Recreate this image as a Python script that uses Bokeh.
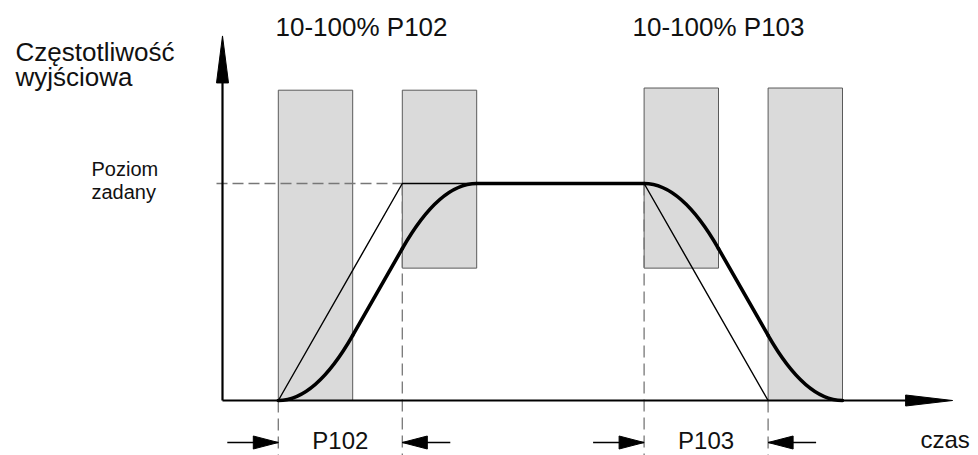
from bokeh.plotting import figure
from bokeh.models import Range1d
from bokeh.core.properties import value
from bokeh.embed import file_html
from bokeh.resources import INLINE

# ---------------- data (time units, output frequency as fraction of setpoint) ----------------
setpoint = 1.0
# shaded S-curve rounding windows
win_left = [2.25, 7.25, 17.0, 22.0]
win_right = [5.25, 10.25, 20.0, 25.0]
win_bottom = [0.0, 0.61, 0.61, 0.0]
win_top = [1.43, 1.43, 1.44, 1.44]
# linear ramp (thin line): P102 accel 2.25->7.25, P103 decel 17->22
lin_t = [2.25, 7.25, 17.0, 22.0]
lin_f = [0.0, 1.0, 1.0, 0.0]
# S-curve (thick line): quadratic rounding pieces
sq_x0 = [2.25, 7.25, 17.0, 22.0]
sq_y0 = [0.0, 0.7, 1.0, 0.3]
sq_cx = [3.75, 8.75, 18.5, 23.5]
sq_cy = [0.0, 1.0, 1.0, 0.0]
sq_x1 = [5.25, 10.25, 20.0, 25.0]
sq_y1 = [0.3, 1.0, 0.7, 0.0]
# S-curve straight pieces
ss_x0 = [5.25, 10.25, 20.0]
ss_y0 = [0.3, 1.0, 0.7]
ss_x1 = [7.25, 17.0, 22.0]
ss_y1 = [0.7, 1.0, 0.3]
# ramp time markers (dimension lines)
dim_names = ["P102", "P103"]
dim_start = [2.25, 17.0]
dim_end = [7.25, 22.0]
axis_x_end = 29.44
axis_y_end = 1.68

# ---------------- layout helpers (pixel -> data) ----------------
W, H = 978, 455
SX, SY = 24.8, 217.0
X0, Y0 = 222.0, 400.0

def dx(px):
    return (px - X0) / SX

def dy(py):
    return (Y0 - py) / SY

p = figure(width=W, height=H, output_backend="svg", toolbar_location=None,
           x_range=Range1d(dx(0), dx(W)), y_range=Range1d(dy(H), dy(0)),
           x_axis_location=None, y_axis_location=None, min_border=0)
p.grid.visible = False
p.outline_line_color = None
p.background_fill_color = "white"
p.border_fill_color = "white"

FONT = value("Liberation Sans")
GRAY_DASH = "#777777"

# shaded windows
p.quad(left=win_left, right=win_right, bottom=win_bottom, top=win_top,
       fill_color="#dadada", line_color="#5a5a5a", line_width=1)

# dashed guides
y_bot = dy(470)
p.segment(x0=[dx(216)], y0=[setpoint], x1=[lin_t[1]], y1=[setpoint],
          line_color=GRAY_DASH, line_width=1.3, line_dash="11 5")
p.segment(x0=[dim_start[0], dim_end[0], dim_start[1], dim_end[1]],
          y0=[0.0, setpoint, setpoint, 0.0],
          x1=[dim_start[0], dim_end[0], dim_start[1], dim_end[1]],
          y1=[y_bot] * 4,
          line_color=GRAY_DASH, line_width=1.3, line_dash="12 6")

# axes
p.line(x=[0, axis_x_end - 40 / SX], y=[0, 0], line_color="black", line_width=2.2)
p.line(x=[0, 0], y=[0, axis_y_end - 40 / SY], line_color="black", line_width=2.2)

def head(tx, ty, ddx, ddy, length, width):
    # ddx, ddy unit direction in pixel space (pointing toward tip)
    bx = tx - ddx * length / SX
    by = ty - ddy * length / SY
    nx, ny = -ddy, ddx
    return ([tx, bx + nx * width / 2 / SX, bx - nx * width / 2 / SX],
            [ty, by + ny * width / 2 / SY, by - ny * width / 2 / SY])

hx, hy = [], []
a = head(axis_x_end, 0, 1, 0, 47, 11); hx.append(a[0]); hy.append(a[1])
a = head(0, axis_y_end, 0, 1, 47, 12); hx.append(a[0]); hy.append(a[1])

# dimension arrows
ydim = dy(442)
for s, e in zip(dim_start, dim_end):
    p.segment(x0=[s - 51 / SX, e + 48 / SX], y0=[ydim, ydim], x1=[s, e], y1=[ydim, ydim],
              line_color="black", line_width=1.3)
    a = head(s, ydim, 1, 0, 25, 13); hx.append(a[0]); hy.append(a[1])
    a = head(e, ydim, -1, 0, 25, 13); hx.append(a[0]); hy.append(a[1])
p.patches(xs=hx, ys=hy, fill_color="black", line_color="black", line_width=1)

# linear ramp (thin)
p.line(x=lin_t, y=lin_f, line_color="black", line_width=1.4)

# S-curve (thick)
p.quadratic(x0=sq_x0, y0=sq_y0, x1=sq_x1, y1=sq_y1, cx=sq_cx, cy=sq_cy,
            line_color="black", line_width=3.6, line_cap="round")
p.segment(x0=ss_x0, y0=ss_y0, x1=ss_x1, y1=ss_y1,
          line_color="black", line_width=3.6, line_cap="round")

# texts (baseline compensation for the renderer's text placement)
def comp(size):
    return 0.42 * size

def txt(s, px, py, size, align="left"):
    p.text(x=[dx(px)], y=[dy(py - comp(size))], text=[s], text_font=FONT,
           text_font_size=value(f"{size}px"),
           text_align=align, text_baseline="alphabetic", text_color="#111111")

txt("Częstotliwość", 15, 62, 26)
txt("wyjściowa", 15, 87, 26)
txt("10-100% P102", 275, 37, 26)
txt("10-100% P103", 632, 37, 26)
txt("Poziom", 91, 177, 20)
txt("zadany", 91, 200, 20)
for name, s, e in zip(dim_names, dim_start, dim_end):
    p.text(x=[(s + e) / 2], y=[dy(450 - comp(24))], text=[name], text_font=FONT,
           text_font_size=value("24px"), text_align="center",
           text_baseline="alphabetic", text_color="#111111")
txt("czas", 920, 449, 24)

open("out.html", "w").write(file_html(p, INLINE))
